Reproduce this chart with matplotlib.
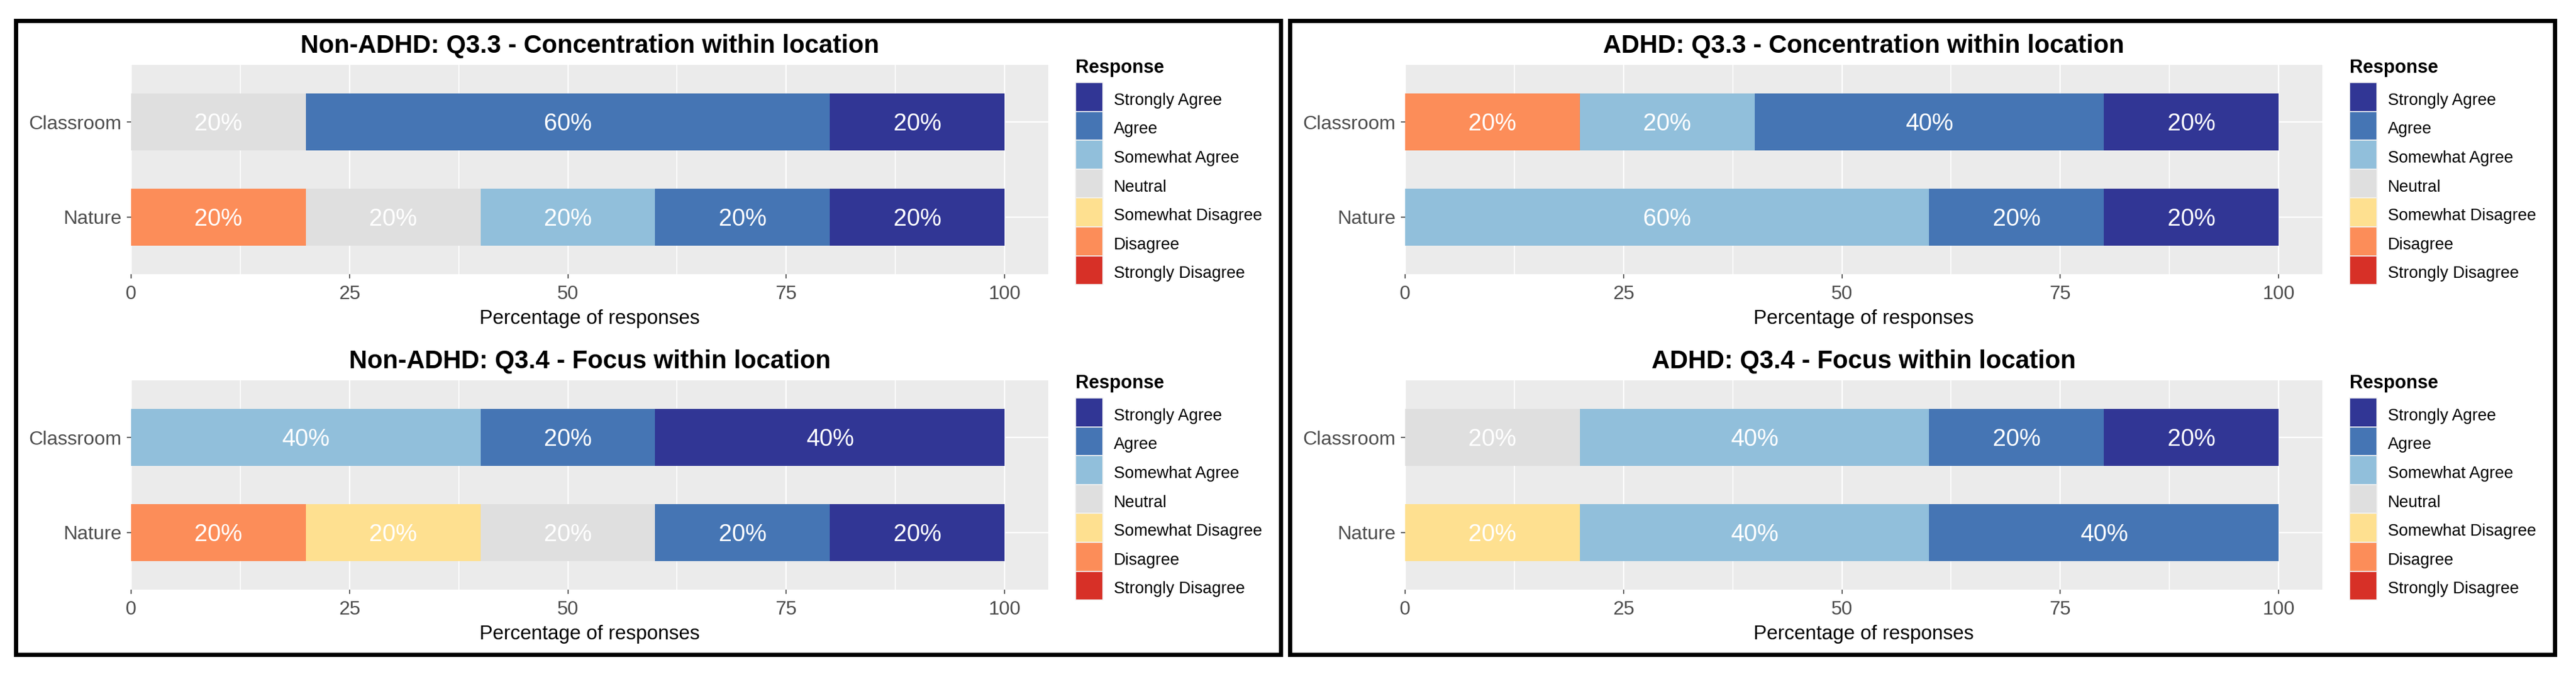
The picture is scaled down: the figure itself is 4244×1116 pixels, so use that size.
import numpy as np
import matplotlib
matplotlib.use('Agg')
import matplotlib.pyplot as plt
from matplotlib.patches import Rectangle

plt.rcParams['font.family'] = ['Liberation Sans', 'DejaVu Sans']

# stacking order, left to right
responses = ['Strongly Disagree', 'Disagree', 'Somewhat Disagree', 'Neutral',
             'Somewhat Agree', 'Agree', 'Strongly Agree']
colors = ['#D73027', '#FC8D59', '#FEE090', '#DFDFDF', '#91BFDB', '#4575B4', '#313695']
locations = ['Nature', 'Classroom']  # bottom to top
x_ticks = [0, 25, 50, 75, 100]

# percentage of responses, in the order of `responses`
non_adhd_q33_nature = [0, 20, 0, 20, 20, 20, 20]
non_adhd_q33_classroom = [0, 0, 0, 20, 0, 60, 20]
non_adhd_q34_nature = [0, 20, 20, 20, 0, 20, 20]
non_adhd_q34_classroom = [0, 0, 0, 0, 40, 20, 40]
adhd_q33_nature = [0, 0, 0, 0, 60, 20, 20]
adhd_q33_classroom = [0, 20, 0, 0, 20, 40, 20]
adhd_q34_nature = [0, 0, 20, 0, 40, 40, 0]
adhd_q34_classroom = [0, 0, 0, 20, 40, 20, 20]

titles = ['Non-ADHD: Q3.3 - Concentration within location',
          'Non-ADHD: Q3.4 - Focus within location',
          'ADHD: Q3.3 - Concentration within location',
          'ADHD: Q3.4 - Focus within location']

W, H = 4244, 1116
fig = plt.figure(figsize=(W / 100, H / 100), dpi=100)


def fx(px):
    return px / W


def fy(py):
    return 1 - py / H


def draw_chart(x0, y0, title, nature, classroom):
    ax = fig.add_axes([fx(x0 + 216), fy(y0 + 452), 1511 / W, 345 / H])
    data = np.array([nature, classroom], dtype=float)
    ypos = np.arange(1, len(locations) + 1)
    left = np.zeros(len(locations))
    for i, resp in enumerate(responses):
        vals = data[:, i]
        ax.barh(ypos, vals, left=left, height=0.6, color=colors[i], zorder=3)
        for y, v, l in zip(ypos, vals, left):
            if v > 0:
                ax.text(l + v / 2, y - 0.09, f'{v:.0f}%', color='white', fontsize=28.5,
                        ha='center', va='baseline', zorder=4)
        left += vals

    ax.set_xlim(0, 105)
    ax.set_ylim(0.4, 2.6)
    ax.set_facecolor('#EBEBEB')
    for s in ax.spines.values():
        s.set_visible(False)
    ax.set_xticks(x_ticks)
    ax.set_xticks([12.5, 37.5, 62.5, 87.5], minor=True)
    ax.set_yticks(ypos)
    ax.set_yticklabels(locations)
    ax.grid(which='major', color='white', linewidth=1.6, zorder=0)
    ax.grid(which='minor', axis='x', color='white', linewidth=1.1, zorder=0)
    ax.set_axisbelow(True)
    ax.tick_params(which='major', length=5, width=1.1, color='#333333',
                   labelcolor='#4D4D4D', labelsize=23)
    ax.tick_params(axis='x', pad=8)
    ax.tick_params(axis='y', pad=6)
    ax.tick_params(which='minor', length=0)

    fig.text(fx(x0 + 971.5), fy(y0 + 87), title, fontsize=30, fontweight='bold',
             ha='center', va='baseline')
    fig.text(fx(x0 + 971.5), fy(y0 + 534), 'Percentage of responses', fontsize=23.5,
             ha='center', va='baseline')

    # legend
    fig.text(fx(x0 + 1772), fy(y0 + 120), 'Response', fontsize=22, fontweight='bold',
             ha='left', va='baseline')
    pitch = 47.6
    for k, resp in enumerate(responses[::-1]):
        top = y0 + 136 + k * pitch
        fig.patches.append(Rectangle((fx(x0 + 1772), fy(top + pitch)), 45 / W, pitch / H,
                                     transform=fig.transFigure, facecolor=colors[::-1][k],
                                     edgecolor='#F2F2F2', linewidth=1.2))
        fig.text(fx(x0 + 1835), fy(top + pitch / 2 + 13), resp, fontsize=19.5,
                 ha='left', va='baseline')


charts = [
    (0, 0, titles[0], non_adhd_q33_nature, non_adhd_q33_classroom),
    (0, 520, titles[1], non_adhd_q34_nature, non_adhd_q34_classroom),
    (2099, 0, titles[2], adhd_q33_nature, adhd_q33_classroom),
    (2099, 520, titles[3], adhd_q34_nature, adhd_q34_classroom),
]
for c in charts:
    draw_chart(*c)

# black frames around each group
for x0 in [0, 2099]:
    fig.patches.append(Rectangle((fx(x0 + 26), fy(1078.5)), 2083.5 / W, 1045 / H,
                                 transform=fig.transFigure, fill=False,
                                 edgecolor='black', linewidth=5))

fig.savefig('out.png', dpi=100, facecolor='white')
